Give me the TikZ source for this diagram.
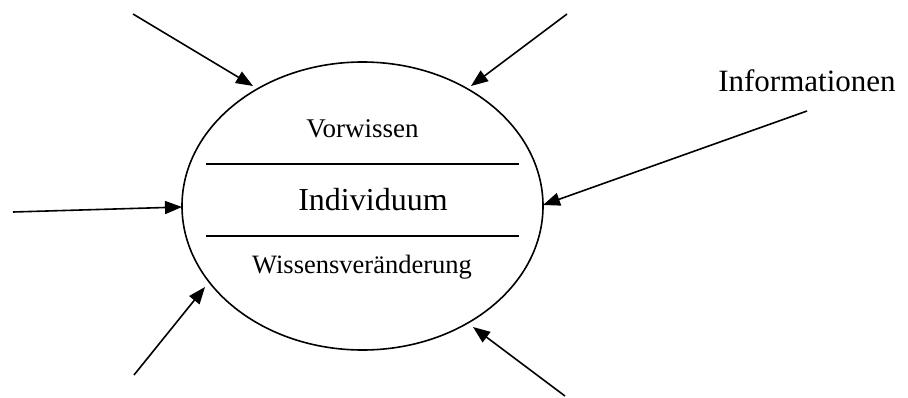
\documentclass[tikz,border=0pt]{standalone}
\usepackage{fontspec}
\setmainfont{Liberation Serif}
\usetikzlibrary{arrows.meta,shapes.geometric}
\begin{document}
\begin{tikzpicture}[x=1pt,y=-1pt,
  conn/.style={line width=1.6pt,-{Triangle[length=17pt,width=13pt]}},
  sep/.style={line width=2pt},
  lbl/.style={anchor=base,inner sep=0pt}]
\useasboundingbox (0,0) rectangle (908,397);
\node[draw,ellipse,line width=1.6pt,minimum width=361pt,minimum height=288pt,inner sep=0pt] (ell) at (362.5,206) {};
\coordinate (l1a) at (206,164); \coordinate (l1b) at (519,164);
\coordinate (l2a) at (206,236); \coordinate (l2b) at (519,236);
\draw[sep] (l1a) -- (l1b);
\draw[sep] (l2a) -- (l2b);
\node[lbl,font=\fontsize{27}{30}\selectfont] (vor) at (362.5,137) {Vorwissen};
\node[lbl,font=\fontsize{32}{36}\selectfont] (ind) at (373,210) {Individuum};
\node[lbl,font=\fontsize{26.5}{30}\selectfont] (wis) at (362,273) {Wissensveränderung};
\node[lbl,font=\fontsize{31}{36}\selectfont] (inf) at (807,91) {Informationen};
\coordinate (s1) at (133,14);  \coordinate (t1) at (253,86);
\coordinate (s2) at (567,14);  \coordinate (t2) at (471,86);
\coordinate (s3) at (13,212);  \coordinate (t3) at (182,207);
\coordinate (s4) at (807,111); \coordinate (t4) at (543,205);
\coordinate (s5) at (134,375); \coordinate (t5) at (205,287);
\coordinate (s6) at (565,396); \coordinate (t6) at (473,327);
\draw[conn] (s1) -- (t1);
\draw[conn] (s2) -- (t2);
\draw[conn] (s3) -- (t3);
\draw[conn] (s4) -- (t4);
\draw[conn] (s5) -- (t5);
\draw[conn] (s6) -- (t6);
\end{tikzpicture}
\end{document}
